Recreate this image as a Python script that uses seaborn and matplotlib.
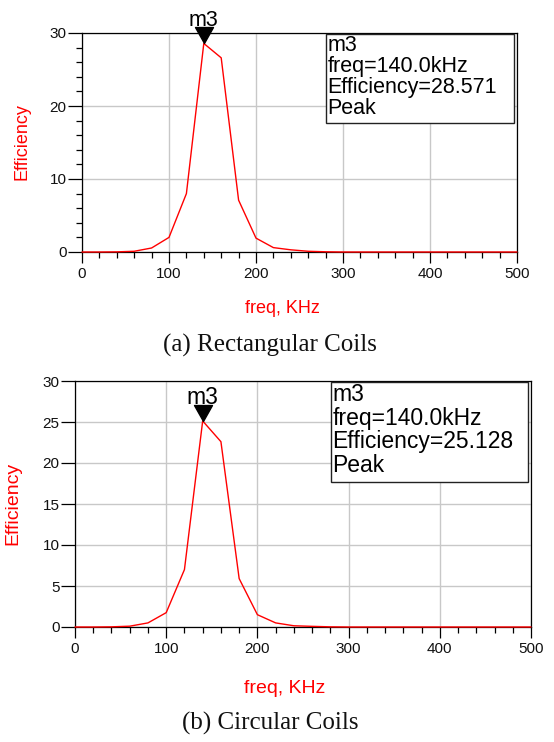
import numpy as np
import pandas as pd
import matplotlib
matplotlib.use("Agg")
import matplotlib.pyplot as plt
from matplotlib.path import Path
from matplotlib.patches import Rectangle
from matplotlib.ticker import MultipleLocator
import seaborn as sns

# ---------------- data ----------------
freq_khz = [0, 20, 40, 60, 80, 100, 120, 140, 160, 180, 200, 220, 240, 260, 280,
            300, 320, 340, 360, 380, 400, 420, 440, 460, 480, 500]
eff_rect = [0.0, 0.0, 0.02, 0.1, 0.55, 2.0, 8.0, 28.571, 26.6, 7.1, 1.9, 0.6, 0.3, 0.1, 0.03,
            0.0, 0.0, 0.0, 0.0, 0.0, 0.0, 0.0, 0.0, 0.0, 0.0, 0.0]
eff_circ = [0.0, 0.0, 0.02, 0.1, 0.5, 1.75, 7.0, 25.128, 22.6, 5.9, 1.5, 0.5, 0.15, 0.08, 0.02,
            0.0, 0.0, 0.0, 0.0, 0.0, 0.0, 0.0, 0.0, 0.0, 0.0, 0.0]
marker_name = "m3"
marker_kind = "Peak"
captions = ["(a) Rectangular Coils", "(b) Circular Coils"]
x_label = "freq, KHz"
y_label = "Efficiency"
x_ticks = [0, 100, 200, 300, 400, 500]
y_ticks_rect = [0, 10, 20, 30]
y_ticks_circ = [0, 5, 10, 15, 20, 25, 30]

# ---------------- style ----------------
sns.set_theme(style="white")
plt.rcParams['font.family'] = ['Liberation Sans', 'DejaVu Sans']

fig = plt.figure(figsize=(5.54, 7.42), dpi=100)

tri = Path([(-9, 16), (9, 16), (0, 0), (-9, 16)],
           [Path.MOVETO, Path.LINETO, Path.LINETO, Path.CLOSEPOLY])

panels = [
    dict(rect=[82/554, 1-252/742, 435/554, 219/742], y=eff_rect, yt=y_ticks_rect,
         yminor=2, fs_box=15.5, fs_lab=13, fs_tick=11, cap=captions[0],
         cap_y=1-345/742, ylab=(-0.138, 0.502), xlab=(0.46, -0.256), ls=1.0),
    dict(rect=[75/554, 1-627/742, 456/554, 246/742], y=eff_circ, yt=y_ticks_circ,
         yminor=None, fs_box=16.5, fs_lab=14, fs_tick=11, cap=captions[1],
         cap_y=1-723/742, ylab=(-0.136, 0.504), xlab=(0.46, -0.248), ls=1.04),
]

for p in panels:
    ax = fig.add_axes(p["rect"])
    df = pd.DataFrame({"freq": freq_khz, "eff": p["y"]})
    sns.lineplot(data=df, x="freq", y="eff", ax=ax, color="#ff0000", linewidth=1.0,
                 zorder=3, clip_on=False)
    ax.set_xlim(0, 500)
    ax.set_ylim(0, 30)
    ax.set_xticks(x_ticks)
    ax.set_yticks(p["yt"])
    ax.xaxis.set_minor_locator(MultipleLocator(20))
    if p["yminor"]:
        ax.yaxis.set_minor_locator(MultipleLocator(p["yminor"]))
    ax.grid(True, which="major", color="#c8c8c8", linewidth=1.0)
    ax.set_axisbelow(True)
    for s in ax.spines.values():
        s.set_color("black")
        s.set_linewidth(0.9)
    ax.tick_params(axis="y", which="major", direction="out", length=10, width=0.9,
                   color="black", labelsize=p["fs_tick"], labelcolor="#111111", pad=1,
                   left=True)
    ax.tick_params(axis="x", which="major", direction="out", length=8, width=0.9,
                   color="black", labelsize=p["fs_tick"], labelcolor="#111111", pad=3,
                   bottom=True)
    ax.tick_params(axis="both", which="minor", direction="out", length=4.5, width=0.9,
                   color="black", left=True, bottom=True)

    ax.set_ylabel(y_label, color="#ff0000", fontsize=p["fs_lab"])
    ax.yaxis.set_label_coords(*p["ylab"])
    ax.yaxis.label.set_va("center")
    ax.set_xlabel(x_label, color="#ff0000", fontsize=p["fs_lab"])
    ax.xaxis.set_label_coords(*p["xlab"])
    ax.xaxis.label.set_va("center")

    # peak marker
    yarr = np.asarray(p["y"])
    i = int(np.argmax(yarr))
    px, py = freq_khz[i], yarr[i]
    ax.plot([px], [py], marker=tri, markersize=23, color="black", clip_on=False,
            zorder=5, linestyle="none")
    ax.annotate(marker_name, (px, py), xytext=(0, 12.5), textcoords="offset points",
                ha="center", va="baseline", fontsize=p["fs_box"], color="black",
                annotation_clip=False, zorder=6)

    # readout box
    ax.add_patch(Rectangle((0.561, 0.589), 0.432, 0.405, transform=ax.transAxes,
                           facecolor="white", edgecolor="#222222", linewidth=1.0,
                           zorder=4, clip_on=False))
    txt = f"{marker_name}\nfreq={px:.1f}kHz\n{y_label}={py:.3f}\n{marker_kind}"
    ax.text(0.564, 0.992, txt, transform=ax.transAxes, ha="left", va="top",
            fontsize=p["fs_box"], linespacing=p["ls"], color="black", zorder=5)

    fig.text(270/554, p["cap_y"], p["cap"], ha="center", va="center",
             fontsize=18, family=["Liberation Serif", "DejaVu Serif"], color="#111111")

fig.savefig("out.png", dpi=100)
